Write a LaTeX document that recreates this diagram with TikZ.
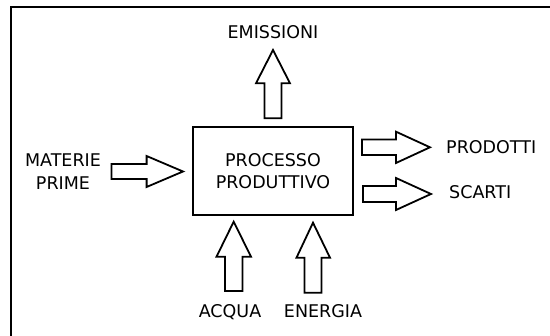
\documentclass[tikz,border=0pt]{standalone}
\usepackage{fontspec}
\setmainfont{DejaVu Sans}
\begin{document}
\begin{tikzpicture}[x=1pt,y=-1pt,
  lbl/.style={inner sep=0pt,font=\fontsize{17.5}{22.5}\selectfont,align=center},
  blockarrow/.style={draw=black,line width=1.8pt,fill=white,line join=miter},
  procbox/.style={draw=black,line width=1.8pt,minimum width=160pt,minimum height=88pt,inner sep=0pt,font=\fontsize{17.5}{22.5}\selectfont,align=center}]
\useasboundingbox (0,0) rectangle (550,336);
% outer frame (cropped at right and bottom)
\draw[line width=2pt] (11,340) -- (11,7.5) -- (555,7.5);
% process box
\node[procbox] (proc) at (273,171) {PROCESSO\\PRODUTTIVO};
% labels
\node[lbl,anchor=base] (emi) at (273,39) {EMISSIONI};
\node[lbl] (mat) at (63,171.6) {MATERIE\\PRIME};
\node[lbl,anchor=base west] (prod) at (446,153.2) {PRODOTTI};
\node[lbl,anchor=base west] (scar) at (449,199) {SCARTI};
\node[lbl,anchor=base] (acq) at (230,318) {ACQUA};
\node[lbl,anchor=base] (ene) at (323,318) {ENERGIA};
% block arrows
% emissioni (up)
\draw[blockarrow] (264.5,118.3) -- (264.5,83.3) -- (256,83.3) -- (273,50) -- (290,83.3) -- (281.5,83.3) -- (281.5,118.3) -- cycle;
% materie prime (right)
\draw[blockarrow] (111.5,164) -- (146.6,164) -- (146.6,156) -- (183,171.5) -- (146.6,187) -- (146.6,179) -- (111.5,179) -- cycle;
% prodotti (right)
\draw[blockarrow] (362,139.5) -- (396,139.5) -- (396,131.7) -- (430,147.3) -- (396,163) -- (396,155) -- (362,155) -- cycle;
% scarti (right)
\draw[blockarrow] (363,186) -- (396,186) -- (396,178) -- (431,194) -- (396,210) -- (396,202) -- (363,202) -- cycle;
% acqua (up)
\draw[blockarrow] (225,291) -- (225,256.7) -- (216.5,256.7) -- (233.7,221.7) -- (251,256.7) -- (242.5,256.7) -- (242.5,291) -- cycle;
% energia (up)
\draw[blockarrow] (304.5,292.7) -- (304.5,257.7) -- (296.5,257.7) -- (313,222.7) -- (330,257.7) -- (321.5,257.7) -- (321.5,292.7) -- cycle;
\end{tikzpicture}
\end{document}
